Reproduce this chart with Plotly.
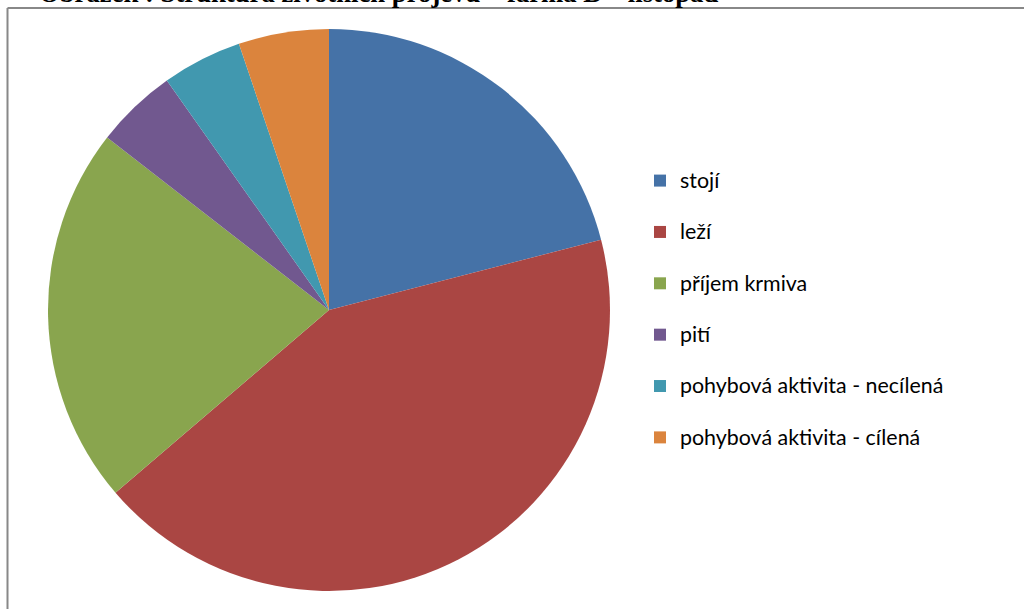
import plotly.graph_objects as go

categories = ["stojí", "leží", "příjem krmiva", "pití",
              "pohybová aktivita - necílená", "pohybová aktivita - cílená"]
values = [21.0, 42.8, 21.8, 4.7, 4.6, 5.2]
colors = ["#4572A7", "#AA4643", "#89A54E", "#71588F", "#4198AF", "#DB843D"]
title_text = "Obrázek : Struktura životních projevů – farma B – listopad"

W, H = 1024, 609
cx, cy, r = 329, 310, 281

labels = ['<span style="font-size:21.4px">' + c + '</span><br> ' for c in categories]

fig = go.Figure(go.Pie(
    labels=labels,
    values=values,
    sort=False,
    direction="clockwise",
    rotation=0,
    marker=dict(colors=colors, line=dict(width=0)),
    textinfo="none",
    hoverinfo="label+percent",
    domain=dict(x=[(cx - r) / W, (cx + r) / W], y=[1 - (cy + r) / H, 1 - (cy - r) / H]),
))

fig.update_layout(
    width=W, height=H,
    margin=dict(l=0, r=0, t=0, b=0),
    paper_bgcolor="white",
    plot_bgcolor="white",
    showlegend=True,
    legend=dict(
        x=640 / W, y=1 - 162 / H, xanchor="left", yanchor="top",
        font=dict(family="Lato, Carlito, sans-serif", size=18.6, color="#000000"),
        valign="top", itemwidth=30, bgcolor="rgba(0,0,0,0)",
    ),
    shapes=[
        dict(type="line", xref="paper", yref="paper", x0=7.5 / W, x1=7.5 / W,
             y0=-0.01, y1=1 - 8 / H, line=dict(color="#888888", width=2)),
        dict(type="line", xref="paper", yref="paper", x0=7.5 / W, x1=1.01,
             y0=1 - 8 / H, y1=1 - 8 / H, line=dict(color="#888888", width=2)),
    ],
    annotations=[dict(
        text="<b>" + title_text + "</b>", xref="paper", yref="paper",
        x=37 / W, y=1 - 10 / H, xanchor="left", yanchor="bottom",
        showarrow=False,
        font=dict(family="Liberation Serif, Times New Roman, serif", size=26.7, color="#000000"),
    )],
)

fig.write_html("out.html", config={"displayModeBar": False},
               post_script="document.body.style.margin='0';")
